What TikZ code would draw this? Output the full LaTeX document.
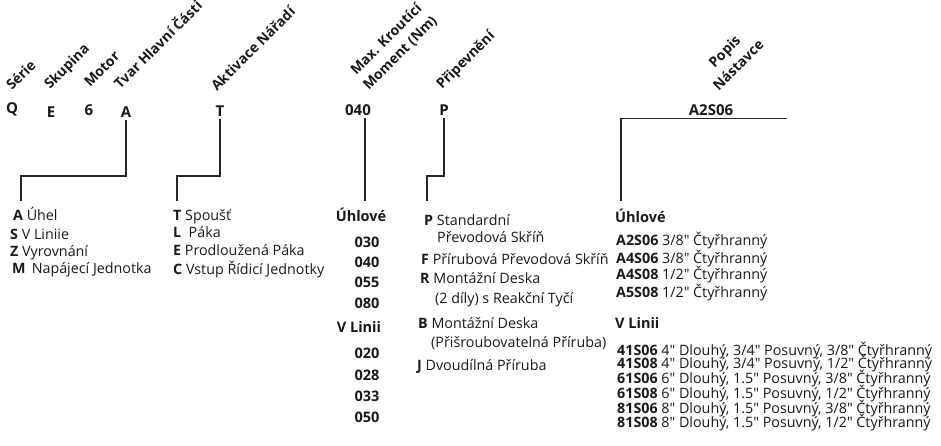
\documentclass[tikz,border=0pt]{standalone}
\usepackage{fontspec}
\setmainfont{Open Sans}[Ligatures=TeXOff]

\begin{document}
\begin{tikzpicture}[x=1pt,y=-1pt,
    every node/.style={inner sep=0pt, text=black!90},
    tag/.style={font=\bfseries\fontsize{14}{19.5}\selectfont, rotate=45},
    code/.style={font=\bfseries\fontsize{15}{17}\selectfont, anchor=base, inner ysep=3pt},
    item/.style={font=\fontsize{14.3}{16}\selectfont, anchor=base west},
    head/.style={font=\bfseries\fontsize{14.5}{16}\selectfont, anchor=base},
    lead/.style={line width=1.7pt, black!85}]
    \useasboundingbox (0,0) rectangle (941,445);

    % Slanted headings
    \node[tag, anchor=base west] (tagSerie) at (12,91) {Série};
    \node[tag, anchor=base west] (tagSkupina) at (50,90) {Skupina};
    \node[tag, anchor=base west] (tagMotor) at (90,88) {Motor};
    \node[tag, anchor=base west] (tagTvar) at (120,90) {Tvar Hlavní Části};
    \node[tag, anchor=base west] (tagAkt) at (217,92) {Aktivace Nářadí};
    \node[tag, anchor=south, align=center] (tagMom) at (405,58) {Max. Kroutící\\Moment (Nm)};
    \node[tag, anchor=base west] (tagPrip) at (442,90) {Připevnění};
    \node[tag, anchor=south, align=center] (tagNast) at (742,69) {Popis\\Nástavce};

    % Model code
    \node[code] (codeQ) at (12,113) {Q};
    \node[code] (codeE) at (51,117) {E};
    \node[code] (code6) at (89,115) {6};
    \node[code] (codeA) at (126,117) {A};
    \node[code] (codeT) at (220,116) {T};
    \node[code] (codeMom) at (358,115) {040};
    \node[code] (codePrip) at (444,115) {P};
    \node[code] (codeNast) at (711,115) {A2S06};

    % Connector ends
    \coordinate (endA) at (21,201);
    \coordinate (endT) at (177,201);
    \coordinate (endMom) at (365,201);
    \coordinate (endPrip) at (427,201);
    \coordinate (endNast) at (621,201);

    \draw[lead] (codeA.south) -- ++(0,56) -| (endA);
    \draw[lead] (codeT.south) -- ++(0,57) -| (endT);
    \draw[lead] (endMom |- codeMom.south) -- (endMom);
    \draw[lead] (codePrip.south) -- ++(0,58) -| (endPrip);
    \draw[lead] (endNast) |- (codeNast.south) -- ++(76,0);

    % Tvar hlavni casti
    \foreach \x/\y/\k/\t in {13/220/A/Úhel, 10/239/S/V Liniie,
                             10/256/Z/Vyrovnání, 12/273/M/{\,Napájecí Jednotka}}
        \node[item] (tvar\k) at (\x,\y) {\textbf{\k} \t};

    % Aktivace naradi
    \foreach \y/\k/\t in {220/T/Spoušť, 237/L/{\ Páka},
                          255/E/Prodloužená Páka, 274/C/Vstup Řídicí Jednotky}
        \node[item] (akt\k) at (173,\y) {\textbf{\k} \t};

    % Moment
    \node[head] (momUhl) at (361,221) {Úhlové};
    \node[head] (momLin) at (359,332) {V Linii};
    \foreach \y/\v in {247/030, 267/040, 287/055, 308/080,
                       358/020, 380/028, 401/033, 422/050}
        \node[head] (mom\v\y) at (367,\y) {\v};

    % Pripevneni
    \node[item] (pripP) at (424,225) {\textbf{P} Standardní};
    \node[item] (pripP2) at (437,242) {Převodová Skříň};
    \node[item] (pripF) at (421,264) {\textbf{F} Přírubová Převodová Skříň};
    \node[item] (pripR) at (420,283) {\textbf{R} Montážní Deska};
    \node[item] (pripR2) at (435,303) {(2 díly) s Reakční Tyčí};
    \node[item] (pripB) at (418,328) {\textbf{B} Montážní Deska};
    \node[item] (pripB2) at (431,347) {(Přišroubovatelná Příruba)};
    \node[item] (pripJ) at (417,370) {\textbf{J} Dvoudílná Příruba};

    % Popis nastavce
    \node[head, anchor=base west] (nastUhl) at (615,222) {Úhlové};
    \foreach \y/\k/\t in {245/A2S06/{3/8}, 263/A4S06/{3/8}, 279/A4S08/{1/2}, 297/A5S08/{1/2}}
        \node[item] (nast\k) at (616,\y) {\textbf{\k} \t" Čtyřhranný};
    \node[head, anchor=base west] (nastLin) at (615,328) {V Linii};
    \foreach \y/\k/\t in {355/41S06/{4" Dlouhý, 3/4" Posuvný, 3/8"},
                          368/41S08/{4" Dlouhý, 3/4" Posuvný, 1/2"},
                          383/61S06/{6" Dlouhý, 1.5" Posuvný, 3/8"},
                          398/61S08/{6" Dlouhý, 1.5" Posuvný, 1/2"},
                          413/81S06/{8" Dlouhý, 1.5" Posuvný, 3/8"},
                          427/81S08/{8" Dlouhý, 1.5" Posuvný, 1/2"}}
        \node[item] (nast\k) at (617,\y) {\textbf{\k} \t{} Čtyřhranný};
\end{tikzpicture}
\end{document}
